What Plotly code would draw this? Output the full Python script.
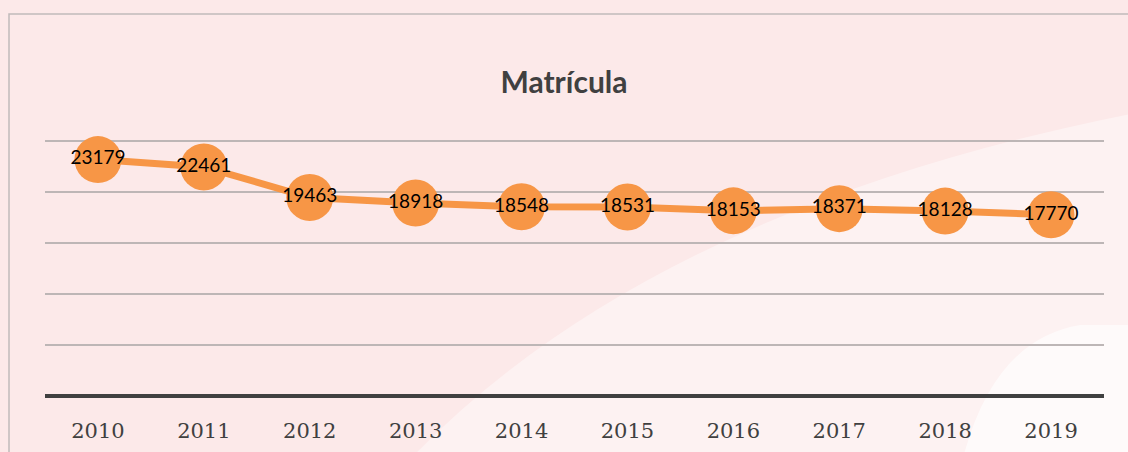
"""Matrícula 2010-2019 — orange line with value bubbles on a pale pink card."""

import plotly.graph_objects as go

YEARS = ["2010", "2011", "2012", "2013", "2014", "2015", "2016", "2017", "2018", "2019"]
MATRICULA = [23179, 22461, 19463, 18918, 18548, 18531, 18153, 18371, 18128, 17770]

ORANGE = "#F79646"
TEXT_DARK = "#404040"
GRID = "#BDB6B6"
BG = "#FCE9E9"

W, H = 1128, 452
M = dict(l=45, r=24, t=140, b=56)


def px_to_paper(x=None, y=None):
    # Paper coords are relative to the plot area; convert pixel positions.
    pw = W - M["l"] - M["r"]
    ph = H - M["t"] - M["b"]
    if x is not None:
        return (x - M["l"]) / pw
    return (H - M["b"] - y) / ph


fig = go.Figure()
fig.add_scatter(
    x=YEARS,
    y=MATRICULA,
    mode="lines+markers+text",
    line=dict(color=ORANGE, width=7),
    marker=dict(size=47, color=ORANGE, line=dict(width=0)),
    text=[str(v) for v in MATRICULA],
    textposition="middle center",
    textfont=dict(family="Lato, Carlito, sans-serif", size=19, color="#000000"),
    cliponaxis=False,
    showlegend=False,
)

# lighter area below the curved sweep in the lower right of the card
fig.add_shape(
    type="path",
    xref="paper",
    yref="paper",
    path=(
        f"M {px_to_paper(x=400)},{px_to_paper(y=470)} "
        f"Q {px_to_paper(x=640)},{px_to_paper(y=210)} {px_to_paper(x=1140)},{px_to_paper(y=112)} "
        f"L {px_to_paper(x=1140)},{px_to_paper(y=470)} Z"
    ),
    fillcolor="rgba(255,255,255,0.4)",
    line=dict(width=0),
    layer="below",
)
# near-white patch at the bottom right corner
fig.add_shape(
    type="path",
    xref="paper",
    yref="paper",
    path=(
        f"M {px_to_paper(x=960)},{px_to_paper(y=470)} "
        f"Q {px_to_paper(x=990)},{px_to_paper(y=340)} {px_to_paper(x=1080)},{px_to_paper(y=325)} "
        f"L {px_to_paper(x=1140)},{px_to_paper(y=325)} L {px_to_paper(x=1140)},{px_to_paper(y=470)} Z"
    ),
    fillcolor="rgba(255,255,255,0.6)",
    line=dict(width=0),
    layer="below",
)

# card frame
fig.add_shape(
    type="rect",
    xref="paper",
    yref="paper",
    x0=px_to_paper(x=9),
    x1=px_to_paper(x=1140),
    y0=px_to_paper(y=470),
    y1=px_to_paper(y=14),
    line=dict(color="#C0BABA", width=1.5),
    fillcolor="rgba(0,0,0,0)",
    layer="below",
)

fig.update_layout(
    width=W,
    height=H,
    paper_bgcolor=BG,
    plot_bgcolor="rgba(0,0,0,0)",
    margin=M,
    title=dict(
        text="<b>Matrícula</b>",
        x=0.5,
        xanchor="center",
        y=1 - 82 / H,
        yanchor="middle",
        font=dict(family="Lato, Carlito, sans-serif", size=30, color=TEXT_DARK),
    ),
)
fig.update_xaxes(
    type="category",
    range=[-0.5, 9.5],
    automargin=False,
    showgrid=False,
    showline=False,
    zeroline=False,
    ticks="",
    tickfont=dict(family="DejaVu Serif, Cambria, serif", size=21, color=TEXT_DARK),
    ticklabelstandoff=20,
)
fig.update_yaxes(
    range=[0, 25100],
    automargin=False,
    tickvals=[0, 5000, 10000, 15000, 20000, 25000],
    showticklabels=False,
    gridcolor=GRID,
    gridwidth=1.5,
    zeroline=True,
    zerolinecolor=TEXT_DARK,
    zerolinewidth=4,
)

fig.write_html(
    "out.html",
    config={"displayModeBar": False},
    post_script="document.body.style.margin='0';",
)
